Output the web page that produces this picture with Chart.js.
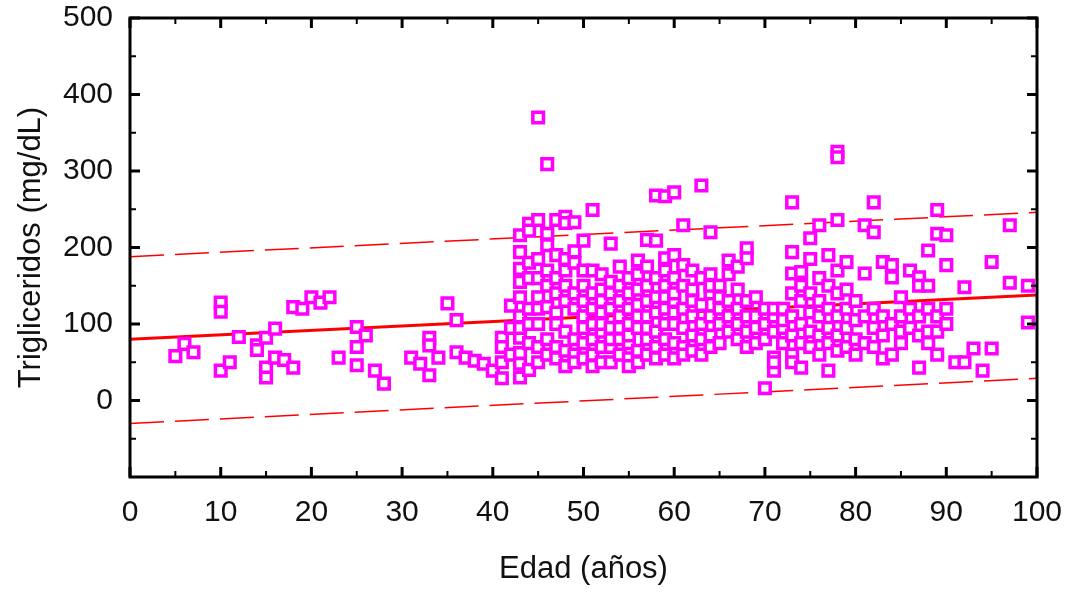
<!DOCTYPE html>
<html>
<head>
<meta charset="utf-8">
<script src="https://cdn.jsdelivr.net/npm/chart.js@4.4.1/dist/chart.umd.min.js"></script>
<style>
  html, body { margin: 0; padding: 0; background: #fff; }
  #wrap { width: 1073px; height: 592px; }
</style>
</head>
<body>
<div id="wrap"><canvas id="grafico" width="1073" height="592"></canvas></div>
<script>
// ── Datos: edad (años) y triglicéridos (mg/dL) ──────────────────────────────
const edad = [
  5, 6, 7, 10, 10, 10, 11, 12, 14, 14, 15, 15, 15, 16, 16, 17, 18, 18, 19, 20,
  21, 22, 23, 25, 25, 25, 26, 27, 28, 31, 32, 33, 33, 33, 34, 35, 36, 36, 37, 38,
  39, 40, 41, 41, 41, 41, 42, 42, 42,
  43, 43, 43, 43, 43, 43, 43, 43, 43, 43, 43,
  44, 44, 44, 44, 44, 44, 44, 44,
  45, 45, 45, 45, 45, 45, 45, 45, 45,
  46, 46, 46, 46, 46, 46, 46, 46,
  47, 47, 47, 47, 47, 47, 47, 47,
  48, 48, 48, 48, 48, 48, 48, 48, 48,
  49, 49, 49, 49, 49, 49, 49, 49,
  50, 50, 50, 50, 50, 50, 50, 50,
  51, 51, 51, 51, 51, 51, 51, 51,
  52, 52, 52, 52, 52, 52, 52, 52,
  53, 53, 53, 53, 53, 53, 53, 53,
  54, 54, 54, 54, 54, 54, 54,
  55, 55, 55, 55, 55, 55, 55, 55,
  56, 56, 56, 56, 56, 56, 56, 56,
  57, 57, 57, 57, 57, 57, 57, 57,
  58, 58, 58, 58, 58, 58, 58, 58,
  59, 59, 59, 59, 59, 59, 59, 59, 59,
  60, 60, 60, 60, 60, 60, 60, 60, 60,
  61, 61, 61, 61, 61, 61, 61,
  62, 62, 62, 62, 62, 62,
  63, 63, 63, 63, 63, 63,
  64, 64, 64, 64, 64, 64, 64,
  65, 65, 65, 65, 65,
  66, 66, 66, 66, 66,
  67, 67, 67, 67, 67,
  68, 68, 68, 68, 68, 68,
  69, 69, 69, 69,
  70, 70, 70, 70,
  71, 71, 71, 71, 71, 71,
  72, 72, 72, 72,
  73, 73, 73, 73, 73, 73, 73, 73,
  74, 74, 74, 74, 74, 74,
  75, 75, 75, 75, 75, 75,
  76, 76, 76, 76, 76, 76,
  77, 77, 77, 77, 77, 77,
  78, 78, 78, 78, 78, 78, 78, 78,
  79, 79, 79, 79, 79,
  80, 80, 80, 80,
  81, 81, 81, 81,
  82, 82, 82, 82, 82,
  83, 83, 83, 83,
  84, 84, 84, 84,
  85, 85, 85, 85,
  86, 86, 86,
  87, 87, 87, 87, 87,
  88, 88, 88, 88, 88,
  89, 89, 89, 89, 89,
  90, 90, 90, 90,
  91, 92, 92, 93, 94, 95, 95, 97, 97, 99, 99
]
const trigliceridos = [
  58, 74, 63, 128, 116, 39, 50, 83, 72, 66, 82, 43, 30, 94, 56, 53, 43, 122, 120, 135,
  128, 135, 56, 96, 70, 46, 85, 39, 22, 56, 48, 82, 72, 33, 56, 127, 105, 63, 56, 52,
  48, 39, 29, 82, 70, 50, 124, 60, 95,
  30, 48, 82, 95, 135, 172, 194, 216, 110, 62, 155,
  231, 222, 75, 120, 160, 40, 100, 180,
  370, 236, 135, 100, 70, 160, 185, 120, 50,
  309, 218, 203, 122, 80, 60, 150, 170,
  236, 190, 140, 100, 70, 55, 160, 115,
  240, 232, 185, 170, 130, 90, 65, 45, 150,
  233, 195, 180, 120, 80, 60, 50, 140,
  209, 150, 110, 75, 55, 130, 95, 170,
  249, 170, 140, 100, 80, 60, 45, 120,
  165, 130, 90, 70, 50, 115, 145, 100,
  205, 155, 120, 95, 70, 50, 140, 80,
  175, 150, 110, 80, 60, 130, 95,
  160, 140, 100, 75, 55, 120, 45, 85,
  183, 165, 125, 95, 65, 50, 145, 110,
  210, 175, 130, 110, 80, 60, 150, 95,
  268, 209, 160, 135, 115, 90, 70, 55,
  267, 186, 170, 150, 120, 100, 80, 60, 135,
  272, 190, 160, 130, 100, 75, 55, 140, 115,
  229, 177, 150, 120, 95, 70, 60,
  170, 145, 110, 85, 65, 130,
  281, 160, 125, 100, 80, 60,
  220, 165, 140, 110, 85, 70, 150,
  150, 120, 100, 75, 135,
  183, 165, 130, 110, 90,
  175, 145, 120, 100, 80,
  199, 186, 130, 110, 90, 70,
  135, 110, 95, 75,
  16, 120, 100, 80,
  39, 56, 50, 110, 90, 120,
  95, 120, 75, 105,
  259, 194, 166, 140, 110, 85, 60, 50,
  168, 130, 100, 75, 43, 150,
  212, 185, 140, 115, 90, 70,
  229, 160, 130, 110, 85, 60,
  190, 150, 120, 95, 39, 75,
  325, 318, 236, 170, 140, 110, 85, 65,
  181, 145, 120, 95, 70,
  130, 105, 80, 60,
  229, 166, 110, 75,
  259, 220, 120, 95, 70,
  181, 110, 85, 55,
  177, 161, 100, 60,
  135, 110, 90, 75,
  170, 120, 95,
  161, 150, 110, 43, 85,
  196, 150, 120, 90, 75,
  249, 218, 110, 60, 90,
  216, 177, 120, 100,
  50, 148, 50, 68, 39, 181, 68, 229, 154, 150, 102
]

// recta de ajuste y bandas de predicción (extremos en edad 0 y 100)
const extremosEdad = [0, 100]
const ajuste = [80, 138]
const bandaSuperior = [188, 246]
const bandaInferior = [-30, 29]

// marcas de los ejes
const marcasX = [0, 10, 20, 30, 40, 50, 60, 70, 80, 90, 100]
const marcasXMenores = [5, 15, 25, 35, 45, 55, 65, 75, 85, 95]
const marcasY = [0, 100, 200, 300, 400, 500]
const marcasYMenores = [-50, 50, 150, 250, 350, 450]

const magenta = "#ff00ff"
const rojo = "#ff0000"
const fuente = "'Liberation Sans', Arial, sans-serif"

const puntos = edad.map((e, i) => ({ x: e, y: trigliceridos[i] }))
const recta = arr => extremosEdad.map((e, i) => ({ x: e, y: arr[i] }))

// marco negro con marcas hacia dentro, en los cuatro lados
const marcoPlugin = {
  id: "marco",
  afterDraw(chart) {
    const { ctx, chartArea: a, scales: { x, y } } = chart
    ctx.save()
    ctx.strokeStyle = "#000"
    const tick = (x1, y1, x2, y2) => {
      ctx.beginPath(); ctx.moveTo(x1, y1); ctx.lineTo(x2, y2); ctx.stroke()
    }
    ctx.lineWidth = 3
    marcasX.forEach(v => {
      const px = x.getPixelForValue(v)
      tick(px, a.bottom, px, a.bottom - 10)
      tick(px, a.top, px, a.top + 10)
    })
    marcasY.forEach(v => {
      const py = y.getPixelForValue(v)
      tick(a.left, py, a.left + 10, py)
      tick(a.right, py, a.right - 10, py)
    })
    ctx.lineWidth = 2
    marcasXMenores.forEach(v => {
      const px = x.getPixelForValue(v)
      tick(px, a.bottom, px, a.bottom - 6)
      tick(px, a.top, px, a.top + 6)
    })
    marcasYMenores.forEach(v => {
      const py = y.getPixelForValue(v)
      tick(a.left, py, a.left + 6, py)
      tick(a.right, py, a.right - 6, py)
    })
    ctx.lineWidth = 3
    ctx.strokeRect(a.left, a.top, a.right - a.left, a.bottom - a.top)
    ctx.restore()
  }
}

new Chart(document.getElementById("grafico"), {
  type: "scatter",
  data: {
    datasets: [
      {
        label: "Triglicéridos",
        data: puntos,
        pointStyle: "rect",
        pointRadius: 7.5,
        pointBorderWidth: 3.5,
        pointBorderColor: magenta,
        pointBackgroundColor: "#fff",
        showLine: false
      },
      {
        label: "Ajuste",
        data: recta(ajuste),
        showLine: true,
        borderColor: rojo,
        borderWidth: 3,
        pointRadius: 0
      },
      {
        label: "Superior",
        data: recta(bandaSuperior),
        showLine: true,
        borderColor: rojo,
        borderWidth: 1.5,
        borderDash: [34, 11],
        pointRadius: 0
      },
      {
        label: "Inferior",
        data: recta(bandaInferior),
        showLine: true,
        borderColor: rojo,
        borderWidth: 1.5,
        borderDash: [34, 11],
        pointRadius: 0
      }
    ]
  },
  options: {
    responsive: false,
    animation: false,
    layout: { padding: { left: 0, top: 18, right: 36, bottom: 0 } },
    plugins: { legend: { display: false }, tooltip: { enabled: false } },
    scales: {
      x: {
        type: "linear",
        min: 0,
        max: 100,
        afterBuildTicks: s => { s.ticks = marcasX.map(v => ({ value: v })) },
        afterFit: s => { s.height = 115; s.paddingLeft = 0; s.paddingRight = 0 },
        grid: { display: false, drawTicks: false },
        border: { display: false },
        ticks: { color: "#111", font: { family: fuente, size: 30 }, padding: 18, maxRotation: 0 },
        title: {
          display: true,
          text: "Edad (años)",
          color: "#111",
          font: { family: fuente, size: 31 },
          padding: { top: 0, bottom: 4 }
        }
      },
      y: {
        type: "linear",
        min: -100,
        max: 500,
        afterBuildTicks: s => { s.ticks = marcasY.map(v => ({ value: v })) },
        afterFit: s => { s.width = 130; s.paddingTop = 0; s.paddingBottom = 0 },
        grid: { display: false, drawTicks: false },
        border: { display: false },
        ticks: { color: "#111", font: { family: fuente, size: 30 }, padding: 17 },
        title: {
          display: true,
          text: "Trigliceridos (mg/dL)",
          color: "#111",
          font: { family: fuente, size: 31 },
          padding: { top: 13, bottom: 0 }
        }
      }
    }
  },
  plugins: [marcoPlugin]
})
</script>
</body>
</html>
